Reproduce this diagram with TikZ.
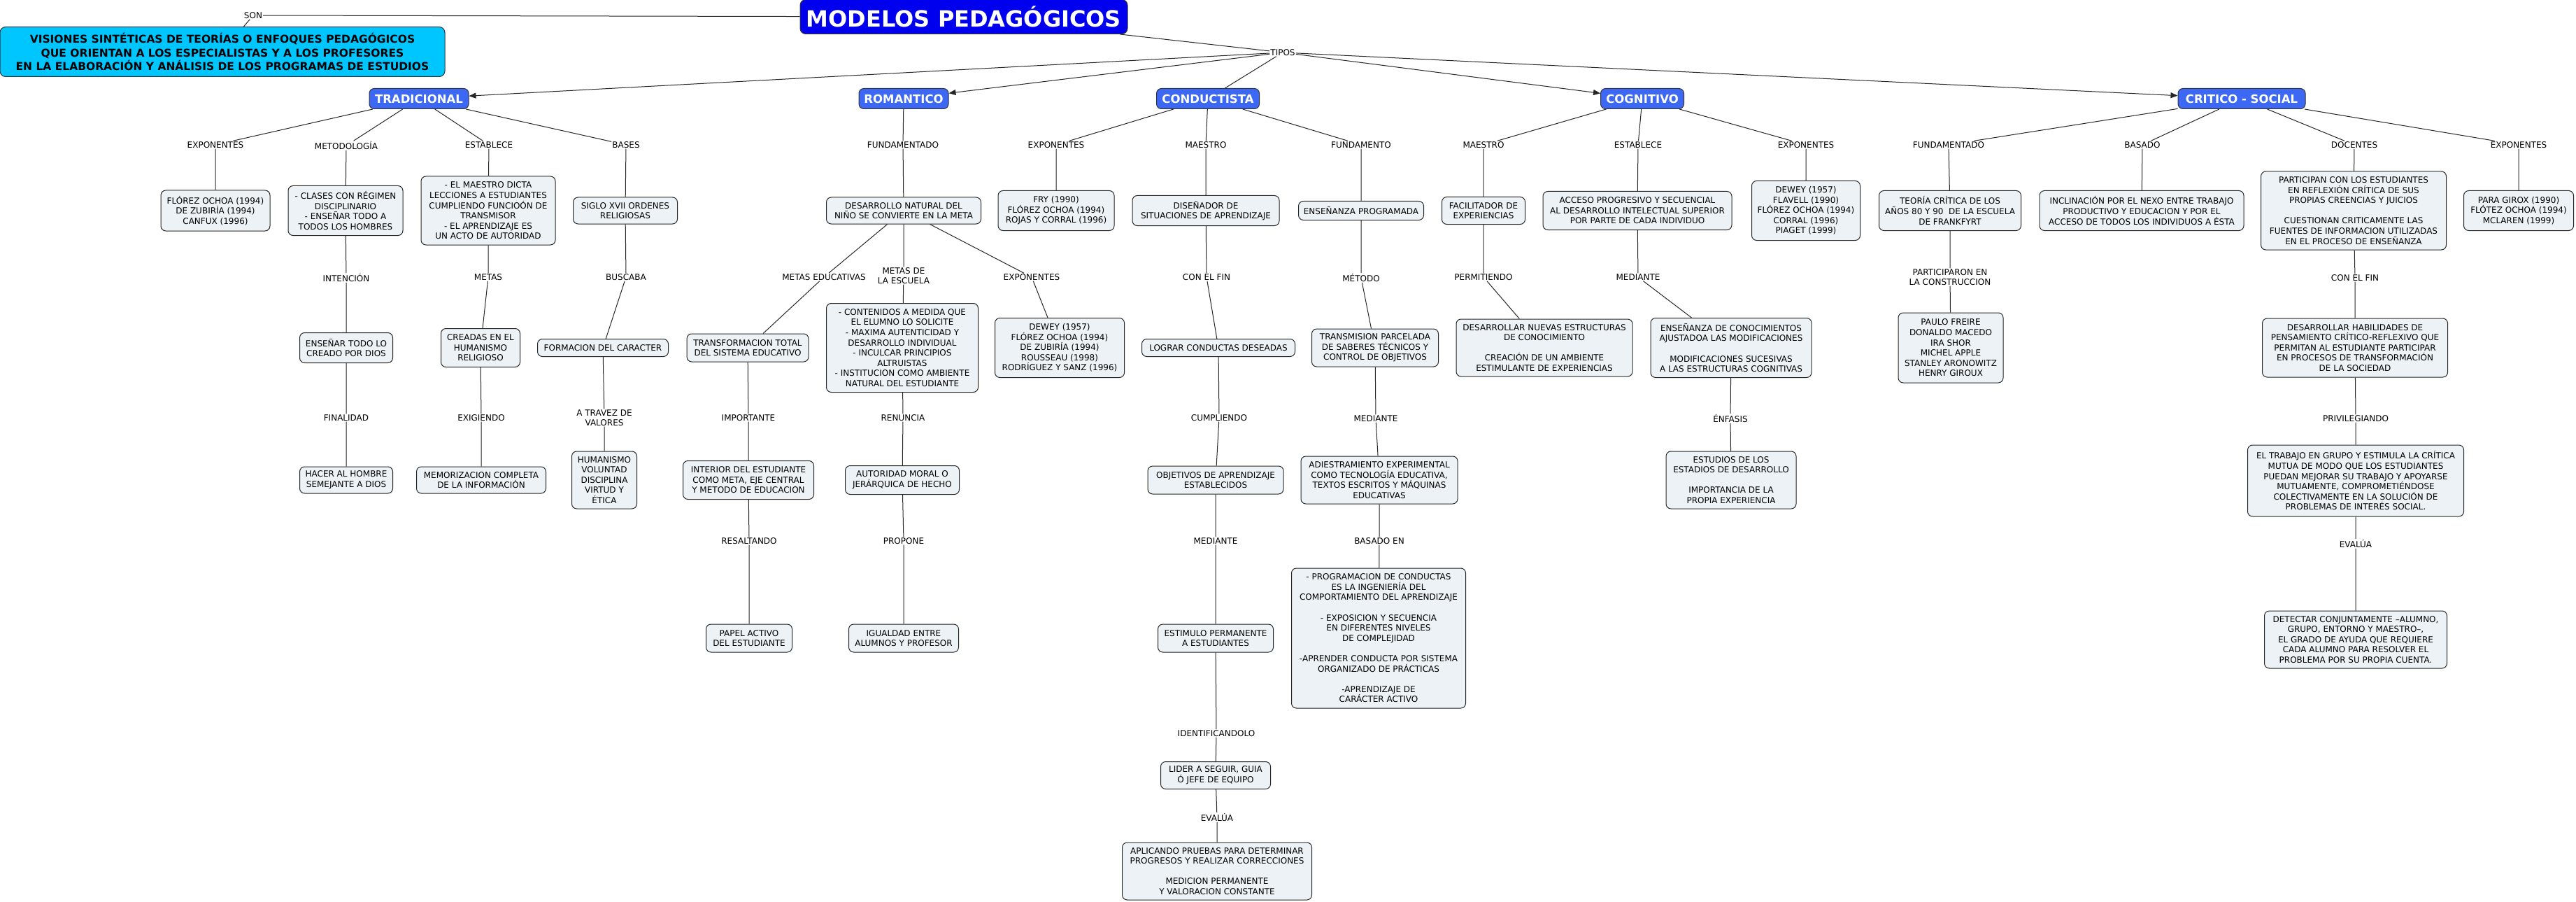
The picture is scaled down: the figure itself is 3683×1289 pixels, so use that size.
\documentclass[tikz,border=0pt]{standalone}
\usepackage{fontspec}
\setmainfont{DejaVu Sans}
\usetikzlibrary{arrows.meta}

\definecolor{boxgray}{HTML}{ECF2F5}
\definecolor{modelblue}{HTML}{3D68F4}
\definecolor{titleblue}{HTML}{0000EE}
\definecolor{visioncyan}{HTML}{00C6FF}

\begin{document}
\begin{tikzpicture}[x=1pt, y=-1pt,
    titulo/.style={draw=black!80, line width=1pt, fill=titleblue, text=white, rounded corners=8pt, font=\fontsize{32}{36}\selectfont\bfseries, minimum width=468pt, minimum height=49pt, inner sep=2pt},
    vision/.style={draw=black!80, line width=1pt, fill=visioncyan, rounded corners=8pt, align=center, font=\fontsize{15.5}{19.5}\selectfont\bfseries, minimum width=636pt, minimum height=71pt, inner sep=2pt},
    modelo/.style={draw=black!80, line width=1pt, fill=modelblue, text=white, rounded corners=7pt, font=\fontsize{16.5}{18}\selectfont\bfseries, minimum width=#1, minimum height=29pt, inner sep=2pt},
    cbox/.style 2 args={draw=black!85, line width=1pt, fill=boxgray, rounded corners=7pt, align=center, font=\fontsize{12}{14.6}\selectfont, minimum width=#1, minimum height=#2, inner xsep=5pt, inner ysep=3pt},
    linkword/.style={align=center, font=\fontsize{12}{14}\selectfont, inner sep=1pt},
    wire/.style={line width=1pt, draw=black!85},
    tipo/.style={wire, -{Triangle[length=10pt,width=8pt]}}]

    \useasboundingbox[fill=white] (0,0) rectangle (3683,1289); % page size of the map

    % top of the map
    \node[titulo] (modelos) at (1378,24) {MODELOS PEDAGÓGICOS};
    \node[linkword] (son) at (362,22) {SON};
    \node[vision] (visiones) at (318,74) {VISIONES SINTÉTICAS DE TEORÍAS O ENFOQUES PEDAGÓGICOS\\QUE ORIENTAN A LOS ESPECIALISTAS Y A LOS PROFESORES\\EN LA ELABORACIÓN Y ANÁLISIS DE LOS PROGRAMAS DE ESTUDIOS};
    \node[linkword] (tipos) at (1834,75) {TIPOS};

    % the five models
    \node[modelo=142pt] (trad) at (599,141) {TRADICIONAL};
    \node[modelo=128pt] (roma) at (1292,141) {ROMANTICO};
    \node[modelo=147pt] (cond) at (1727,141) {CONDUCTISTA};
    \node[modelo=119pt] (cog) at (2348,141) {COGNITIVO};
    \node[modelo=182pt] (crit) at (3205,141) {CRITICO - SOCIAL};

    % tradicional
    \node[linkword] (tExp) at (308,207) {EXPONENTES};
    \node[linkword] (tMet) at (495,208) {METODOLOGÍA};
    \node[linkword] (tEst) at (699,207) {ESTABLECE};
    \node[linkword] (tBas) at (895,207) {BASES};
    \node[cbox={156pt}{58pt}] (tAutores) at (308,301) {FLÓREZ OCHOA (1994)\\DE ZUBIRÍA (1994)\\CANFUX (1996)};
    \node[cbox={164pt}{71pt}] (tClases) at (494,301) {- CLASES CON RÉGIMEN\\DISCIPLINARIO\\- ENSEÑAR TODO A\\TODOS LOS HOMBRES};
    \node[cbox={192pt}{98pt}] (tDicta) at (698,301) {- EL MAESTRO DICTA\\LECCIONES A ESTUDIANTES\\CUMPLIENDO FUNCIOÓN DE\\TRANSMISOR\\- EL APRENDIZAJE ES\\UN ACTO DE AUTORIDAD};
    \node[cbox={149pt}{38pt}] (tSiglo) at (894,301) {SIGLO XVII ORDENES\\RELIGIOSAS};
    \node[linkword] (tInt) at (495,397) {INTENCIÓN};
    \node[linkword] (tMetas) at (698,396) {METAS};
    \node[linkword] (tBusca) at (895,396) {BUSCABA};
    \node[cbox={133pt}{43pt}] (tEnsenar) at (495,497) {ENSEÑAR TODO LO\\CREADO POR DIOS};
    \node[cbox={113pt}{55pt}] (tCreadas) at (687,497) {CREADAS EN EL\\HUMANISMO\\RELIGIOSO};
    \node[cbox={187pt}{25pt}] (tFormacion) at (862,497) {FORMACION DEL CARACTER};
    \node[linkword] (tFin) at (495,597) {FINALIDAD};
    \node[linkword] (tExig) at (688,597) {EXIGIENDO};
    \node[linkword] (tTravez) at (864,597) {A TRAVEZ DE\\VALORES};
    \node[cbox={133pt}{38pt}] (tHacer) at (495,686) {HACER AL HOMBRE\\SEMEJANTE A DIOS};
    \node[cbox={185pt}{38pt}] (tMemo) at (688,686) {MEMORIZACION COMPLETA\\DE LA INFORMACIÓN};
    \node[cbox={93pt}{82pt}] (tHuman) at (864,686) {HUMANISMO\\VOLUNTAD\\DISCIPLINA\\VIRTUD Y\\ÉTICA};

    % romantico
    \node[linkword] (rFund) at (1291,207) {FUNDAMENTADO};
    \node[cbox={221pt}{38pt}] (rDesarrollo) at (1292,301) {DESARROLLO NATURAL DEL\\NIÑO SE CONVIERTE EN LA META};
    \node[linkword] (rMetasEd) at (1178,396) {METAS EDUCATIVAS};
    \node[linkword] (rMetasEsc) at (1292,394) {METAS DE\\LA ESCUELA};
    \node[linkword] (rExp) at (1475,396) {EXPONENTES};
    \node[cbox={174pt}{40pt}] (rTransf) at (1069,497) {TRANSFORMACION TOTAL\\DEL SISTEMA EDUCATIVO};
    \node[cbox={217pt}{127pt}] (rContenidos) at (1290,497) {- CONTENIDOS A MEDIDA QUE\\EL ELUMNO LO SOLICITE\\- MAXIMA AUTENTICIDAD Y\\DESARROLLO INDIVIDUAL\\- INCULCAR PRINCIPIOS\\ALTRUISTAS\\- INSTITUCION COMO AMBIENTE\\NATURAL DEL ESTUDIANTE};
    \node[cbox={185pt}{85pt}] (rDewey) at (1515,497) {DEWEY (1957)\\FLÓREZ OCHOA (1994)\\DE ZUBIRÍA (1994)\\ROUSSEAU (1998)\\RODRÍGUEZ Y SANZ (1996)};
    \node[linkword] (rImp) at (1070,597) {IMPORTANTE};
    \node[linkword] (rRen) at (1291,597) {RENUNCIA};
    \node[cbox={187pt}{55pt}] (rInterior) at (1070,686) {INTERIOR DEL ESTUDIANTE\\COMO META, EJE CENTRAL\\Y METODO DE EDUCACION};
    \node[cbox={163pt}{41pt}] (rAutoridad) at (1290,686) {AUTORIDAD MORAL O\\JERÁRQUICA DE HECHO};
    \node[linkword] (rResal) at (1071,773) {RESALTANDO};
    \node[linkword] (rProp) at (1292,773) {PROPONE};
    \node[cbox={123pt}{40pt}] (rPapel) at (1071,912) {PAPEL ACTIVO\\DEL ESTUDIANTE};
    \node[cbox={157pt}{40pt}] (rIgualdad) at (1292,912) {IGUALDAD ENTRE\\ALUMNOS Y PROFESOR};

    % conductista
    \node[linkword] (cExp) at (1510,207) {EXPONENTES};
    \node[linkword] (cMae) at (1724,207) {MAESTRO};
    \node[linkword] (cFund) at (1946,207) {FUNDAMENTO};
    \node[cbox={166pt}{57pt}] (cFry) at (1510,301) {FRY (1990)\\FLÓREZ OCHOA (1994)\\ROJAS Y CORRAL (1996)};
    \node[cbox={210pt}{43pt}] (cDisenador) at (1724,301) {DISEÑADOR DE\\SITUACIONES DE APRENDIZAJE};
    \node[cbox={179pt}{27pt}] (cEnsenanza) at (1946,301) {ENSEÑANZA PROGRAMADA};
    \node[linkword] (cFin) at (1725,396) {CON EL FIN};
    \node[linkword] (cMetodo) at (1946,397) {MÉTODO};
    \node[cbox={219pt}{25pt}] (cLograr) at (1742,497) {LOGRAR CONDUCTAS DESEADAS};
    \node[cbox={181pt}{54pt}] (cTransm) at (1966,497) {TRANSMISION PARCELADA\\DE SABERES TÉCNICOS Y\\CONTROL DE OBJETIVOS};
    \node[linkword] (cCumpl) at (1743,597) {CUMPLIENDO};
    \node[linkword] (cMedTrans) at (1967,598) {MEDIANTE};
    \node[cbox={194pt}{40pt}] (cObjetivos) at (1738,686) {OBJETIVOS DE APRENDIZAJE\\ESTABLECIDOS};
    \node[cbox={224pt}{68pt}] (cAdiestr) at (1972,686) {ADIESTRAMIENTO EXPERIMENTAL\\COMO TECNOLOGÍA EDUCATIVA,\\TEXTOS ESCRITOS Y MÁQUINAS\\EDUCATIVAS};
    \node[linkword] (cMedObj) at (1738,773) {MEDIANTE};
    \node[linkword] (cBasado) at (1972,773) {BASADO EN};
    \node[cbox={165pt}{40pt}] (cEstimulo) at (1738,912) {ESTIMULO PERMANENTE\\A ESTUDIANTES};
    \node[cbox={249pt}{200pt}] (cProgram) at (1971,912) {- PROGRAMACION DE CONDUCTAS\\ES LA INGENIERÍA DEL\\COMPORTAMIENTO DEL APRENDIZAJE\\[14.6pt]- EXPOSICION Y SECUENCIA\\EN DIFERENTES NIVELES\\DE COMPLEJIDAD\\[14.6pt]-APRENDER CONDUCTA POR SISTEMA\\ORGANIZADO DE PRÁCTICAS\\[14.6pt]-APRENDIZAJE DE\\CARÁCTER ACTIVO};
    \node[linkword] (cIdent) at (1739,1048) {IDENTIFICANDOLO};
    \node[cbox={157pt}{39pt}] (cLider) at (1738,1108) {LIDER A SEGUIR, GUIA\\Ó JEFE DE EQUIPO};
    \node[linkword] (cEval) at (1740,1168) {EVALÚA};
    \node[cbox={271pt}{82pt}] (cAplicando) at (1740,1245) {APLICANDO PRUEBAS PARA DETERMINAR\\PROGRESOS Y REALIZAR CORRECCIONES\\[14.6pt]MEDICION PERMANENTE\\Y VALORACION CONSTANTE};

    % cognitivo
    \node[linkword] (gMae) at (2121,207) {MAESTRO};
    \node[linkword] (gEst) at (2342,207) {ESTABLECE};
    \node[linkword] (gExp) at (2582,207) {EXPONENTES};
    \node[cbox={119pt}{39pt}] (gFacil) at (2121,301) {FACILITADOR DE\\EXPERIENCIAS};
    \node[cbox={270pt}{55pt}] (gAcceso) at (2341,301) {ACCESO PROGRESIVO Y SECUENCIAL\\AL DESARROLLO INTELECTUAL SUPERIOR\\POR PARTE DE CADA INDIVIDUO};
    \node[cbox={155pt}{85pt}] (gDewey) at (2582,301) {DEWEY (1957)\\FLAVELL (1990)\\FLÓREZ OCHOA (1994)\\CORRAL (1996)\\PIAGET (1999)};
    \node[linkword] (gPerm) at (2121,396) {PERMITIENDO};
    \node[linkword] (gMed) at (2342,396) {MEDIANTE};
    \node[cbox={252pt}{82pt}] (gDesarrollar) at (2208,497) {DESARROLLAR NUEVAS ESTRUCTURAS\\DE CONOCIMIENTO\\[14.6pt]CREACIÓN DE UN AMBIENTE\\ESTIMULANTE DE EXPERIENCIAS};
    \node[cbox={230pt}{85pt}] (gEnsenanza) at (2475,497) {ENSEÑANZA DE CONOCIMIENTOS\\AJUSTADOA LAS MODIFICACIONES\\[14.6pt]MODIFICACIONES SUCESIVAS\\A LAS ESTRUCTURAS COGNITIVAS};
    \node[linkword] (gEnfasis) at (2474,598) {ÉNFASIS};
    \node[cbox={186pt}{82pt}] (gEstudios) at (2475,686) {ESTUDIOS DE LOS\\ESTADIOS DE DESARROLLO\\[14.6pt]IMPORTANCIA DE LA\\PROPIA EXPERIENCIA};

    % critico - social
    \node[linkword] (sFund) at (2786,207) {FUNDAMENTADO};
    \node[linkword] (sBas) at (3063,207) {BASADO};
    \node[linkword] (sDoc) at (3366,207) {DOCENTES};
    \node[linkword] (sExp) at (3601,207) {EXPONENTES};
    \node[cbox={203pt}{57pt}] (sTeoria) at (2788,301) {TEORÍA CRÍTICA DE LOS\\AÑOS 80 Y 90\ \ DE LA ESCUELA\\DE FRANKFYRT};
    \node[cbox={292pt}{57pt}] (sInclin) at (3062,301) {INCLINACIÓN POR EL NEXO ENTRE TRABAJO\\PRODUCTIVO Y EDUCACION Y POR EL\\ACCESO DE TODOS LOS INDIVIDUOS A ÉSTA};
    \node[cbox={265pt}{112pt}] (sPartic) at (3365,301) {PARTICIPAN CON LOS ESTUDIANTES\\EN REFLEXIÓN CRÍTICA DE SUS\\PROPIAS CREENCIAS Y JUICIOS\\[14.6pt]CUESTIONAN CRITICAMENTE LAS\\FUENTES DE INFORMACION UTILIZADAS\\EN EL PROCESO DE ENSEÑANZA};
    \node[cbox={157pt}{57pt}] (sGirox) at (3601,301) {PARA GIROX (1990)\\FLÓTEZ OCHOA (1994)\\MCLAREN (1999)};
    \node[linkword] (sPartCons) at (2788,396) {PARTICIPARON EN\\LA CONSTRUCCION};
    \node[linkword] (sFin) at (3367,397) {CON EL FIN};
    \node[cbox={150pt}{100pt}] (sPaulo) at (2789,497) {PAULO FREIRE\\DONALDO MACEDO\\IRA SHOR\\MICHEL APPLE\\STANLEY ARONOWITZ\\HENRY GIROUX};
    \node[cbox={265pt}{84pt}] (sHabil) at (3367,497) {DESARROLLAR HABILIDADES DE\\PENSAMIENTO CRÍTICO-REFLEXIVO QUE\\PERMITAN AL ESTUDIANTE PARTICIPAR\\EN PROCESOS DE TRANSFORMACIÓN\\DE LA SOCIEDAD};
    \node[linkword] (sPriv) at (3368,598) {PRIVILEGIANDO};
    \node[cbox={309pt}{102pt}] (sTrabajo) at (3368,687) {EL TRABAJO EN GRUPO Y ESTIMULA LA CRÍTICA\\MUTUA DE MODO QUE LOS ESTUDIANTES\\PUEDAN MEJORAR SU TRABAJO Y APOYARSE\\MUTUAMENTE, COMPROMETIÉNDOSE\\COLECTIVAMENTE EN LA SOLUCIÓN DE\\PROBLEMAS DE INTERÉS SOCIAL.};
    \node[linkword] (sEval) at (3368,777) {EVALÚA};
    \node[cbox={261pt}{82pt}] (sDetectar) at (3368,914) {DETECTAR CONJUNTAMENTE –ALUMNO,\\GRUPO, ENTORNO Y MAESTRO–,\\EL GRADO DE AYUDA QUE REQUIERE\\CADA ALUMNO PARA RESOLVER EL\\PROBLEMA POR SU PROPIA CUENTA.};

    % connectors at the top
    \draw[wire] (modelos) -- (son) -- (visiones);
    \draw[wire] (modelos) -- (tipos);
    \draw[tipo] (tipos) -- (trad);
    \draw[tipo] (tipos) -- (roma);
    \draw[wire] (tipos) -- (cond);
    \draw[tipo] (tipos) -- (cog);
    \draw[tipo] (tipos) -- (crit);

    % connectors tradicional
    \draw[wire] (trad) -- (tExp) -- (tAutores);
    \draw[wire] (trad) -- (tMet) -- (tClases) -- (tInt) -- (tEnsenar) -- (tFin) -- (tHacer);
    \draw[wire] (trad) -- (tEst) -- (tDicta) -- (tMetas) -- (tCreadas) -- (tExig) -- (tMemo);
    \draw[wire] (trad) -- (tBas) -- (tSiglo) -- (tBusca) -- (tFormacion) -- (tTravez) -- (tHuman);

    % connectors romantico
    \draw[wire] (roma) -- (rFund) -- (rDesarrollo);
    \draw[wire] (rDesarrollo) -- (rMetasEd) -- (rTransf) -- (rImp) -- (rInterior) -- (rResal) -- (rPapel);
    \draw[wire] (rDesarrollo) -- (rMetasEsc) -- (rContenidos) -- (rRen) -- (rAutoridad) -- (rProp) -- (rIgualdad);
    \draw[wire] (rDesarrollo) -- (rExp) -- (rDewey);

    % connectors conductista
    \draw[wire] (cond) -- (cExp) -- (cFry);
    \draw[wire] (cond) -- (cMae) -- (cDisenador) -- (cFin) -- (cLograr) -- (cCumpl) -- (cObjetivos) -- (cMedObj) -- (cEstimulo) -- (cIdent) -- (cLider) -- (cEval) -- (cAplicando);
    \draw[wire] (cond) -- (cFund) -- (cEnsenanza) -- (cMetodo) -- (cTransm) -- (cMedTrans) -- (cAdiestr) -- (cBasado) -- (cProgram);

    % connectors cognitivo
    \draw[wire] (cog) -- (gMae) -- (gFacil) -- (gPerm) -- (gDesarrollar);
    \draw[wire] (cog) -- (gEst) -- (gAcceso) -- (gMed) -- (gEnsenanza) -- (gEnfasis) -- (gEstudios);
    \draw[wire] (cog) -- (gExp) -- (gDewey);

    % connectors critico - social
    \draw[wire] (crit) -- (sFund) -- (sTeoria) -- (sPartCons) -- (sPaulo);
    \draw[wire] (crit) -- (sBas) -- (sInclin);
    \draw[wire] (crit) -- (sDoc) -- (sPartic) -- (sFin) -- (sHabil) -- (sPriv) -- (sTrabajo) -- (sEval) -- (sDetectar);
    \draw[wire] (crit) -- (sExp) -- (sGirox);
\end{tikzpicture}
\end{document}
